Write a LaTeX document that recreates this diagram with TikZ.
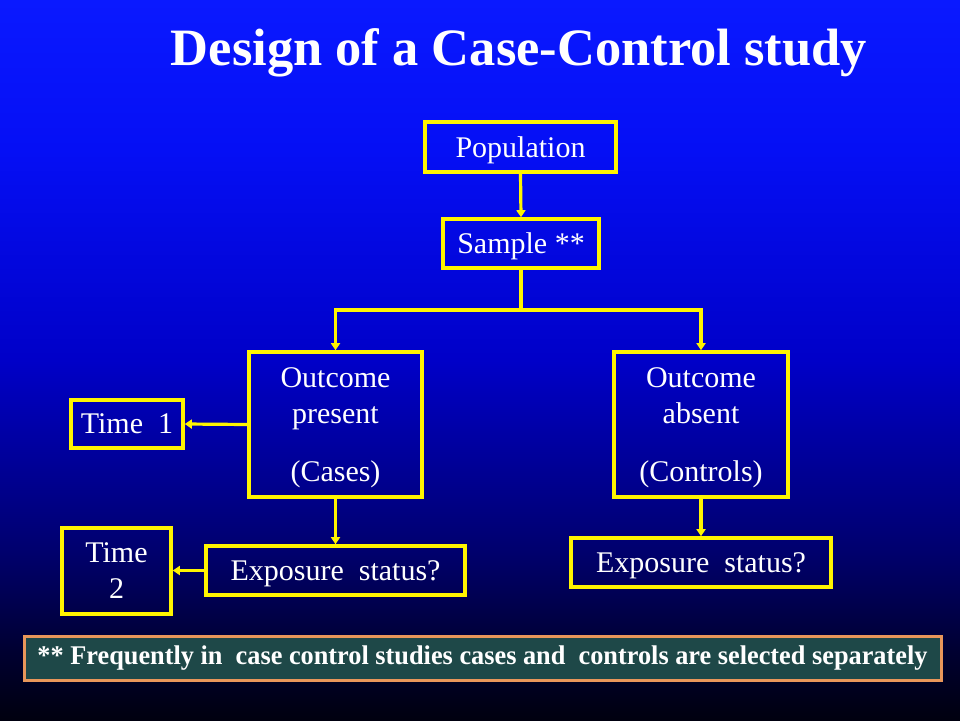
\documentclass[tikz,border=0pt]{standalone}
\usepackage{fontspec}
\setmainfont{Liberation Serif}
\usetikzlibrary{arrows.meta}
\definecolor{bgA}{RGB}{10,25,255}
\definecolor{bgB}{RGB}{5,15,245}
\definecolor{bgC}{RGB}{0,0,200}
\definecolor{bgD}{RGB}{0,0,110}
\definecolor{bgE}{RGB}{0,0,50}
\definecolor{bgF}{RGB}{0,0,15}
\definecolor{boxyellow}{RGB}{255,245,0}
\definecolor{noteteal}{RGB}{30,72,72}
\definecolor{noteorange}{RGB}{232,150,90}
\pgfdeclareverticalshading{slidebg}{100bp}{color(0bp)=(bgF); color(25bp)=(bgF); color(29.9bp)=(bgE); color(36.8bp)=(bgD); color(50bp)=(bgC); color(64.6bp)=(bgB); color(75bp)=(bgA); color(100bp)=(bgA)}
\tikzset{
  ybox/.style={draw=boxyellow, line width=3.6pt, text=white, font=\fontsize{30}{36}\selectfont, align=center, inner sep=0pt, text depth=-8pt},
  yarrow/.style={draw=boxyellow, line width=3.2pt, -{Triangle[length=7pt,width=9pt]}},
  yline/.style={draw=boxyellow, line width=3.2pt},
}
\begin{document}
\begin{tikzpicture}[x=1pt,y=-1pt]
\shade[shading=slidebg] (0,0) rectangle (960,720);
\useasboundingbox (0,0) rectangle (960,720);

\node[text=white, font=\bfseries\fontsize{52.5}{58}\selectfont, anchor=base] (title) at (519,65) {Design of a Case-Control study};

\node[ybox, minimum width=191pt, minimum height=50pt] (pop) at (520.5,147) {Population};
\node[ybox, minimum width=156pt, minimum height=49pt] (samp) at (521,243.5) {Sample **};
\node[ybox, minimum width=173pt, minimum height=145pt] (pres) at (335.5,424.5) {Outcome\\present\\[22pt](Cases)};
\node[ybox, minimum width=174pt, minimum height=145pt] (abs) at (701,424.5) {Outcome\\absent\\[22pt](Controls)};
\node[ybox, minimum width=112pt, minimum height=48pt] (t1) at (127,424) {Time\ \ 1};
\node[ybox, minimum width=109pt, minimum height=86pt] (t2) at (116.5,571) {Time\\2};
\node[ybox, minimum width=259pt, minimum height=49pt] (exL) at (335.5,570.5) {Exposure\ \ status?};
\node[ybox, minimum width=260pt, minimum height=49pt] (exR) at (701,562.5) {Exposure\ \ status?};

\node[draw=noteorange, fill=noteteal, line width=3pt, minimum width=917pt, minimum height=44pt, inner sep=0pt, text=white, font=\bfseries\fontsize{27}{30}\selectfont] (note) at (482.5,658) {\resizebox{890pt}{\height}{** Frequently in\ \ case control studies cases and\ \ controls are selected separately}};

\coordinate (split) at (samp.south |- 0,310);
\draw[yarrow] (pop.south) -- (samp.north);
\draw[yline] (samp.south) -- (split);
\draw[yarrow] (split) -| (pres.north);
\draw[yarrow] (split) -| (abs.north);
\draw[yarrow] (pres.west) -- (t1.east);
\draw[yarrow] (pres.south) -- (exL.north);
\draw[yarrow] (abs.south) -- (exR.north);
\draw[yarrow] (exL.west) -- (exL.west -| t2.east);
\end{tikzpicture}
\end{document}
